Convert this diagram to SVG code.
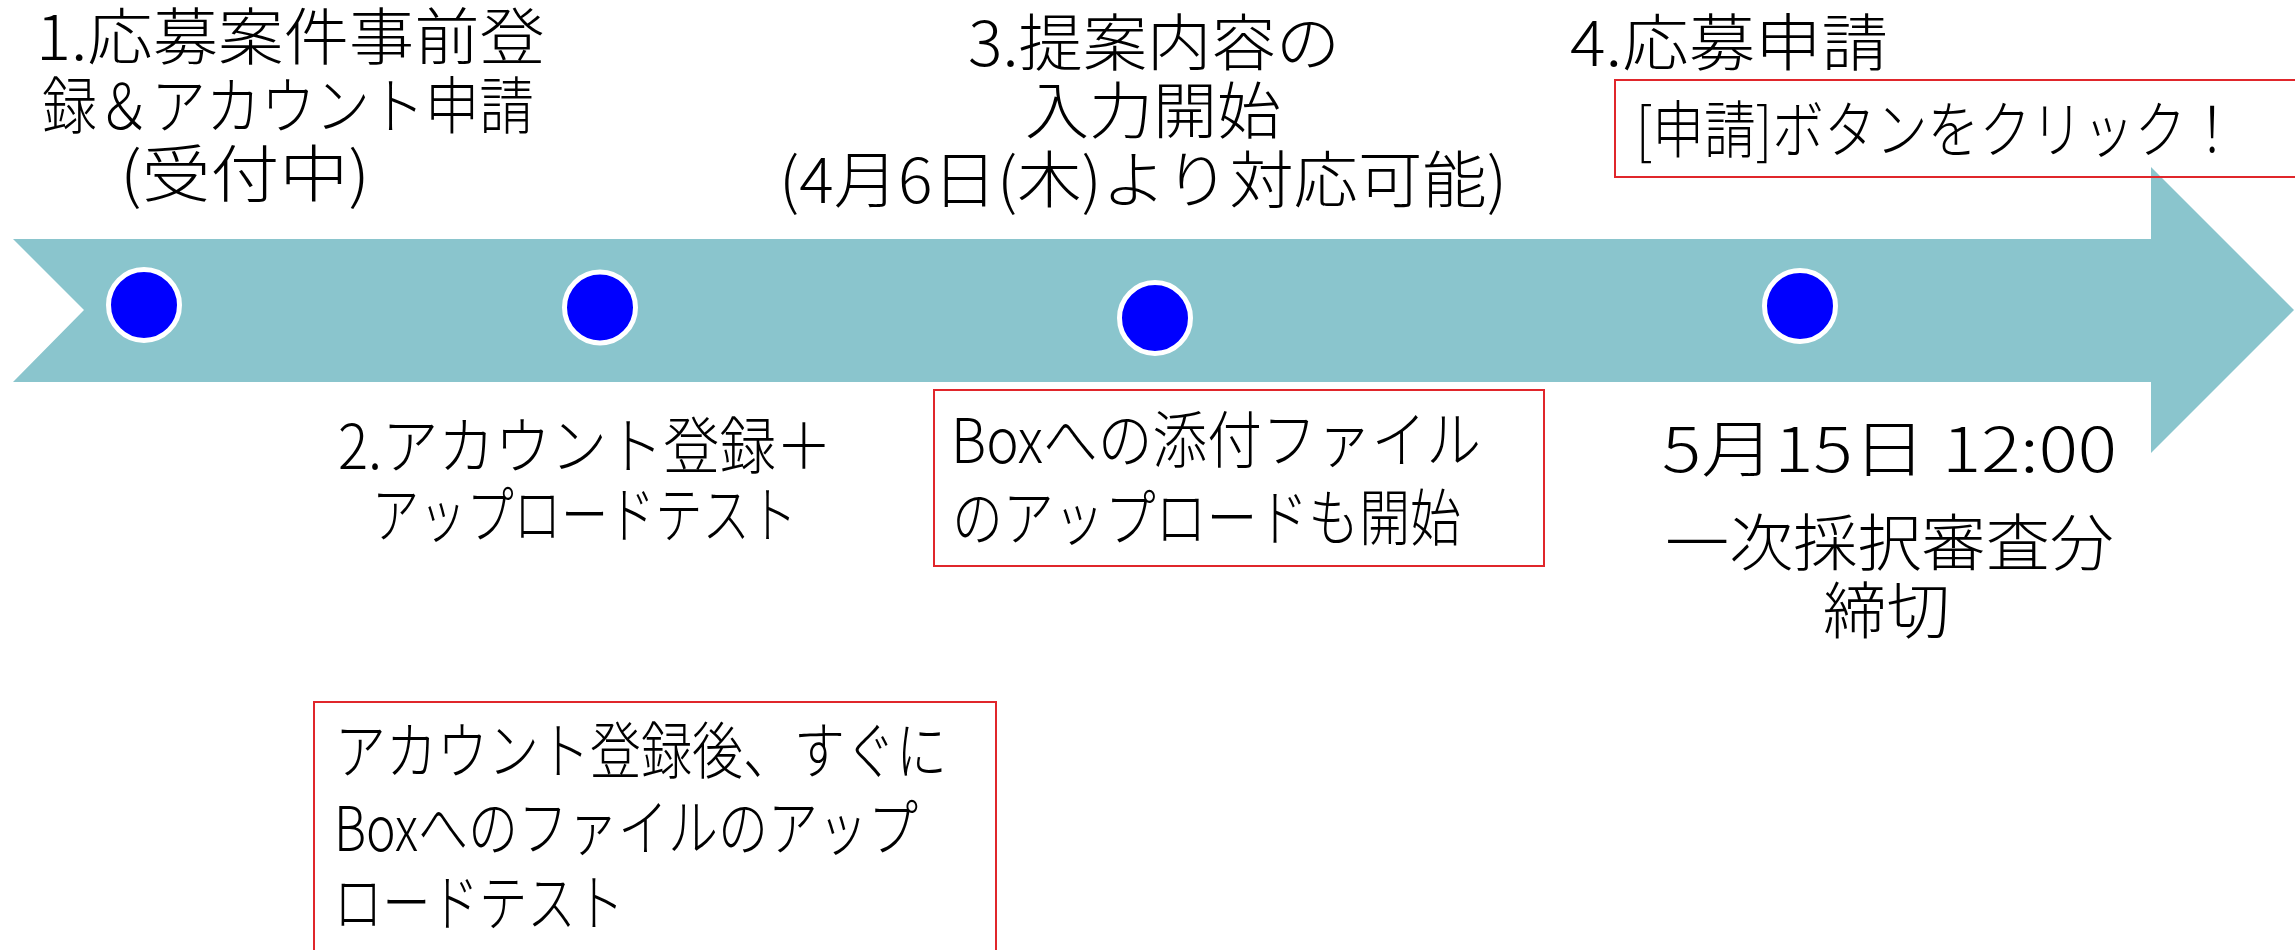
<svg xmlns="http://www.w3.org/2000/svg" width="2295" height="950" viewBox="0 0 2295 950">
<style>
  .t { font-family: "Noto Sans CJK JP", "Noto Sans", sans-serif; font-size: 62px; font-weight: 300; fill: #000; }
  .box { fill: none; stroke: #e0262b; stroke-width: 2; }
  .dot { fill: #0000ff; stroke: #ffffff; stroke-width: 5; }
</style>
<rect x="0" y="0" width="2295" height="950" fill="#ffffff"/>
<g id="connectors">
  <polygon id="timeline-arrow" points="13,239 2151,239 2151,167 2294,310 2151,453 2151,382 13,382 84,310" fill="#8ac5cd"/>
</g>
<g id="milestone-1">
  <circle class="dot" cx="144" cy="305" r="35.5"/>
  <text class="t" x="36" y="60" textLength="509" lengthAdjust="spacingAndGlyphs">1.応募案件事前登</text>
  <text class="t" x="42" y="129" textLength="492" lengthAdjust="spacingAndGlyphs">録＆アカウント申請</text>
  <text class="t" x="120" y="197" textLength="250" lengthAdjust="spacingAndGlyphs">(受付中)</text>
</g>
<g id="milestone-2">
  <circle class="dot" cx="600" cy="307.5" r="35.5"/>
  <text class="t" x="338" y="469" textLength="494" lengthAdjust="spacingAndGlyphs">2.アカウント登録＋</text>
  <text class="t" x="372" y="538" textLength="425" lengthAdjust="spacingAndGlyphs">アップロードテスト</text>
</g>
<g id="note-upload-test">
  <rect class="box" x="314" y="702" width="682" height="270"/>
  <text class="t" x="335" y="774" textLength="612" lengthAdjust="spacingAndGlyphs">アカウント登録後、すぐに</text>
  <text class="t" x="334" y="851" textLength="584" lengthAdjust="spacingAndGlyphs">Boxへのファイルのアップ</text>
  <text class="t" x="334" y="926" textLength="290" lengthAdjust="spacingAndGlyphs">ロードテスト</text>
</g>
<g id="milestone-3">
  <circle class="dot" cx="1155" cy="318" r="35.5"/>
  <text class="t" x="968" y="66" textLength="372" lengthAdjust="spacingAndGlyphs">3.提案内容の</text>
  <text class="t" x="1025" y="134" textLength="256" lengthAdjust="spacingAndGlyphs">入力開始</text>
  <text class="t" x="779" y="203" textLength="728" lengthAdjust="spacingAndGlyphs">(4月6日(木)より対応可能)</text>
</g>
<g id="note-box-upload">
  <rect class="box" x="934" y="390" width="610" height="176"/>
  <text class="t" x="951" y="463" textLength="530" lengthAdjust="spacingAndGlyphs">Boxへの添付ファイル</text>
  <text class="t" x="952" y="541" textLength="509" lengthAdjust="spacingAndGlyphs">のアップロードも開始</text>
</g>
<g id="milestone-4">
  <circle class="dot" cx="1800" cy="306" r="35.5"/>
  <text class="t" x="1570" y="66" textLength="318" lengthAdjust="spacingAndGlyphs">4.応募申請</text>
  <text class="t" x="1662" y="472" textLength="455" lengthAdjust="spacingAndGlyphs">5月15日 12:00</text>
  <text class="t" x="1665" y="566" textLength="449" lengthAdjust="spacingAndGlyphs">一次採択審査分</text>
  <text class="t" x="1823" y="634" textLength="127" lengthAdjust="spacingAndGlyphs">締切</text>
</g>
<g id="note-apply-button">
  <rect class="box" x="1615" y="80" width="700" height="97"/>
  <text class="t" x="1636" y="153" textLength="602" lengthAdjust="spacingAndGlyphs">[申請]ボタンをクリック！</text>
</g>
</svg>
